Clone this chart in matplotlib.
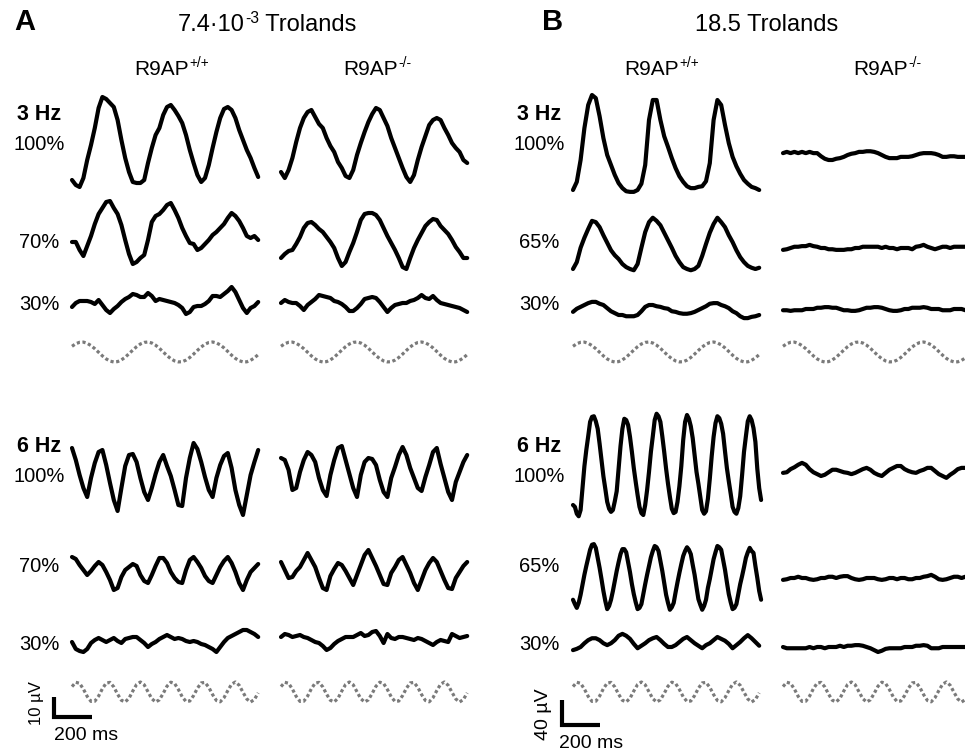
import numpy as np
import matplotlib.pyplot as plt

plt.rcParams['font.family'] = ['Liberation Sans', 'DejaVu Sans']

# ---- traces, uV, read off the figure (1 s sweeps, evenly sampled) ----
# panel A, 7.4e-3 Td
a_wt_3hz_100 = [-20, -22.5, -23.5, -19, -10, -2.5, 6, 16, 21.5, 20.5, 18.5, 16.5, 10, 0, -9, -16, -21,
                -21.5, -21.5, -20, -11.5, -4, 2.5, 6, 12.5, 16.5, 17.5, 15, 12, 8.5, 2.5, -5, -11.5, -17.5,
                -21, -19, -12.5, -4, 4, 11, 15.5, 16.5, 15, 11, 5, 0, -5, -9, -14, -18.5]
a_ko_3hz_100 = [-13.5, -16.5, -12.5, -6.5, 1.5, 8.5, 13.5, 16.5, 17.5, 14, 10.5, 8.5, 3.5, -0.5, -3.5, -8.5,
                -11.5, -15.5, -16.5, -12.5, -5, 1, 6.5, 11.5, 15.5, 18.5, 17.5, 13.5, 9.5, 3.5, -1.5, -6.5,
                -11.5, -16, -18.5, -15, -7.5, -1, 4.5, 10, 12.5, 13.5, 12.5, 8.5, 5, 1, -1.5, -3.5, -7.5, -9]
a_wt_3hz_70 = [-3.5, -3.5, -7.5, -10.5, -5.5, -0.5, 5.5, 10.5, 13.5, 16.5, 17, 13.5, 10.5, 5, -2.5, -9.5, -14.5,
               -13.5, -11.5, -10, -2.5, 6.5, 9.5, 10.5, 12.5, 15, 16, 12.5, 8.5, 3.5, -0.5, -4, -4.5, -7.5,
               -6.5, -4.5, -2.5, 0, 1.5, 3.5, 5.5, 8.5, 11, 9.5, 7, 3.5, -0.5, -1.5, -0.5, -2.5]
a_ko_3hz_70 = [-9, -7, -5.5, -5, -2, 1.5, 6, 8.5, 9, 7.5, 5.5, 4, 1.5, -1, -4, -9, -13, -11, -6, -1.5, 4, 10,
               13, 13.5, 13.5, 12.5, 10, 6, 2, -1.5, -5, -9, -13.5, -14.5, -9, -4, 0, 3.5, 7, 9, 10.5, 10, 7,
               5, 3, 0, -3.5, -6, -9, -9]
a_wt_3hz_30 = [-2, 0, 1, 1, 1, 0.5, -0.5, 1.5, -1, -3.5, -5, -3, -1.5, 0.5, 2, 3, 4.5, 4, 3, 3, 5, 3.5, 1, 2,
               1.5, 1, 0.5, 0, -1, -2.5, -5.5, -4.5, -2, -1.5, -1.5, -0.5, 1, 3.5, 3.5, 3, 4.5, 6, 8, 5.5,
               1.5, -2.5, -5, -2.5, -1.5, 0.5]
a_ko_3hz_30 = [0, 1.5, 0.5, 0, 0, -1.5, -3.5, -1, 0.5, 2, 4, 3.5, 3, 2.5, 1, 0.5, -0.5, -2, -4, -4, -2.5, -0.5,
               2, 2.5, 3, 2.5, 0.5, -2, -4.5, -2.5, -1, -0.5, 0, 0, 1, 1.5, 2.5, 4, 2.5, 2, 3.5, 1.5, 0, -0.5,
               -1, -1.5, -2, -2.5, -3.5, -4.5]
a_wt_6hz_100 = [16, 10, 2.5, -4, -8.5, 1, 8.5, 14, 15, 7.5, -1.5, -10, -15.5, -4, 7, 12.5, 13, 9, 1, -6, -10,
                -4, 3, 9, 12.5, 7, 2, -5, -12.5, -13, 1, 11, 18.5, 15.5, 9, 1.5, -5, -8.5, 1, 7.5, 12, 13.5,
                6, -5, -12.5, -17.5, -7.5, 2.5, 9, 15]
a_ko_6hz_100 = [8.5, 7.5, 2.5, -7.5, -6.5, 1.5, 7.5, 11.5, 10, 6.5, -1.5, -7.5, -10.5, 0, 7.5, 13.5, 14.5, 7.5,
                0.5, -6.5, -11, 0, 6.5, 8.5, 8, 5, -2.5, -8.5, -11, -1.5, 4, 10, 14, 10, 3.5, -1.5, -6.5, -8,
                -1, 5, 11.5, 13.5, 5.5, -1.5, -8.5, -12.5, -3.5, 1.5, 6.5, 10]
a_wt_6hz_70 = [7.5, 6.5, 3.5, 1, -1.5, 0.5, 3, 5, 3.5, 0, -4, -9, -8, -2.5, 1, 2.5, 4, 3, -1.5, -4.5, -5.5,
               -1.5, 3, 7, 7, 4.5, 0, -3, -5, -5.5, 1, 6, 7.5, 5, 2, -2, -4.5, -5.5, -1.5, 2.5, 5.5, 7.5, 4.5,
               0, -5.5, -9, -4, 0, 2, 4]
a_ko_6hz_70 = [5, 1, -3, -2.5, 0.5, 2.5, 6, 9.5, 6, 2.5, -3, -8, -9, -2, 1.5, 4.5, 3.5, 0.5, -3, -6.5, -1.5,
               3.5, 8.5, 11, 7, 3, -1.5, -6, -6.5, -0.5, 2.5, 6, 7.5, 3.5, -0.5, -5.5, -9, -4, 1, 4.5, 7, 5,
               0.5, -4, -8, -8.5, -3, 0, 3, 5]
a_wt_6hz_30 = [-0.5, -4, -5, -5.5, -4, -1, 0.5, 1.5, 0.5, -0.5, 0.5, 1.5, 0, -1, 1, 1.5, 2, 2, 0.5, -1, -3,
               -1.5, -0.5, 1, 2, 3, 2, 1, 1.5, 1, 0, -0.5, 0, -0.5, -1.5, -2, -3, -4, -5.5, -3, -0.5, 1.5,
               2.5, 3.5, 4.5, 5.5, 5.5, 4.5, 3.5, 2]
a_ko_6hz_30 = [0.5, 2, 1.5, 0.5, 1, 1.5, 0.5, 0, -1, -2, -2.5, -4, -6, -5, -3, -1.5, -0.5, 0.5, 0.5, 0.5, 1.5,
               2.5, 1, 1.5, 3, 3.5, 1, -2.5, 2, 0, -0.5, 0.5, 0.5, 0, -0.5, -1, 0, -0.5, -1.5, -2.5, -3.5,
               -2, -1, -1.5, -2, 2, 1, 0, 0.5, 1]

# panel B, 18.5 Td
b_wt_3hz_100 = [-72, -59, -24, 27, 64, 80, 75, 46, 11, -16, -32, -48, -61, -69, -74, -75, -75, -72, -62, -32,
                40, 72, 72, 40, 14, -3, -21, -37, -50, -59, -66, -69, -69, -67, -66, -58, -29, 40, 72, 64,
                32, 3, -19, -34, -46, -56, -62, -67, -69, -72]
b_ko_3hz_100 = [3, 5, 3, 5, 3, 5, 3, 5, 3, 3, -2, -6, -8, -8, -6, -5, -3, 0, 2, 3, 5, 5, 6, 6, 5, 3, 0, -3,
                -5, -5, -5, -3, -3, -3, -2, 0, 2, 3, 3, 3, 2, 0, -3, -3, -2, -2, -3, -3, -3, -3]
b_wt_3hz_65 = [-40, -29, -6, 10, 24, 37, 35, 27, 14, 2, -10, -18, -24, -32, -37, -40, -42, -32, -6, 19, 35,
               42, 37, 30, 18, 6, -6, -19, -29, -37, -40, -42, -40, -35, -19, 0, 18, 32, 42, 35, 27, 14, 3,
               -10, -21, -29, -35, -38, -40, -38]
b_ko_3hz_65 = [-3, -2, 0, 2, 2, 3, 3, 5, 3, 2, 0, 0, -2, -2, -3, -3, -3, -2, -2, 0, 0, 2, 2, 2, 2, 2, 0, 2,
               0, 0, -2, 0, 0, 0, -2, 2, 3, 5, 2, 0, -2, 0, 2, 2, 0, 2, 2, 2, 2, 2]
b_wt_3hz_30 = [-3, 2, 5, 8, 11, 13, 13, 10, 8, 3, -2, -5, -8, -8, -10, -10, -10, -8, -2, 5, 8, 8, 6, 5, 3,
               2, -2, -3, -5, -6, -6, -5, -3, 0, 3, 6, 10, 11, 11, 8, 6, 3, -2, -5, -10, -13, -13, -11, -10,
               -8]
b_ko_3hz_30 = [-2, -2, -3, -2, -2, -2, 0, 0, 0, 2, 2, 3, 3, 2, 2, 0, -2, -2, -3, -3, -2, 0, 2, 2, 3, 3, 2,
               0, -2, -3, -3, -2, 0, 0, 2, 2, 2, 3, 2, 0, 0, 0, -2, -2, -2, 0, 0, 0, -2, -2]
b_wt_6hz_100 = [-64, -67, -78, -82, -72, -37, -2, 24, 46, 69, 77, 78, 70, 58, 34, 8, -18, -38, -59, -70,
                -75, -72, -58, -42, -6, 30, 58, 74, 72, 64, 45, 21, -5, -27, -48, -67, -77, -80, -64, -40,
                -11, 21, 46, 72, 82, 78, 69, 46, 21, -6, -30, -51, -70, -77, -75, -59, -34, -2, 40, 69,
                80, 74, 62, 43, 16, -11, -30, -51, -72, -78, -74, -54, -22, 14, 45, 67, 78, 75, 66, 50,
                22, -5, -26, -46, -67, -75, -78, -69, -50, -16, 21, 46, 70, 78, 72, 59, 37, -6, -37, -56]
b_ko_6hz_100 = [-3, -2, 3, 6, 10, 13, 10, 3, -2, -5, -8, -6, -2, 2, 2, 0, -2, -3, -5, -3, 0, 3, 5, 2, -3, -6,
                -8, -3, 2, 5, 8, 8, 3, 0, -2, -3, 0, 2, 5, 5, 0, -5, -8, -11, -6, -2, 3, 5, 5, 5]
b_wt_6hz_65 = [-38, -45, -51, -43, -30, -14, 2, 16, 29, 42, 50, 51, 45, 29, 13, -5, -24, -40, -53, -48, -38,
               -24, -8, 8, 22, 35, 43, 43, 38, 22, 6, -13, -29, -42, -53, -51, -45, -29, -13, 2, 16, 30, 40,
               48, 46, 40, 24, 8, -11, -30, -43, -54, -50, -43, -26, -10, 5, 19, 32, 40, 46, 42, 35, 18, 2,
               -18, -37, -46, -54, -48, -38, -19, -5, 11, 27, 38, 48, 46, 42, 26, 10, -10, -29, -42, -53,
               -51, -45, -29, -13, 0, 14, 29, 38, 45, 40, 37, 16, -3, -24, -38]
b_ko_6hz_65 = [-3, -2, 0, 0, 2, 0, 0, -2, -3, -2, 0, 0, 2, 2, 0, 2, 3, 3, 0, -2, -3, -2, 0, 0, 0, -2, -3, -2,
               0, 0, -2, 0, 0, -2, -2, 0, 0, 2, 3, 5, 2, -2, -3, -2, 0, 2, 2, 0, 2, 2]
b_wt_6hz_30 = [-13, -11, -8, -2, 3, 6, 6, 3, -2, -5, -2, 3, 10, 13, 10, 5, -3, -10, -6, -2, 3, 6, 8, 3, -3,
               -8, -8, -5, 0, 5, 8, 3, -2, -6, -10, -5, -2, 3, 8, 5, 2, -3, -10, -5, 0, 6, 11, 6, 0, -6]
b_ko_6hz_30 = [0, -2, -2, -2, -2, -2, -2, 0, -2, 0, 0, -2, 0, 0, 0, 2, 0, 2, 2, 3, 3, 2, 0, -2, -5, -8, -6,
               -3, -2, -2, -2, -2, 0, 0, 0, 2, 2, 3, 2, -2, -2, -2, 0, 0, 0, 0, 0, 0, 0, 0]

# stimulus (relative contrast), same sampling as the traces
stim_3hz = [0.57, 0.83, 0.97, 0.99, 0.87, 0.64, 0.33, -0.03, -0.39, -0.69, -0.91, -1.0, -0.96, -0.79, -0.52,
            -0.17, 0.19, 0.53, 0.8, 0.96, 1.0, 0.9, 0.68, 0.37, 0.0, -0.36, -0.67, -0.89, -0.99, -0.97,
            -0.81, -0.55, -0.21, 0.16, 0.5, 0.78, 0.95, 1.0, 0.91, 0.71, 0.41, 0.05, -0.32, -0.64, -0.87,
            -0.99, -0.98, -0.83, -0.59, -0.26]
stim_6hz = [0.54, 0.97, 0.87, 0.29, -0.44, -0.94, -0.92, -0.41, 0.33, 0.89, 0.96, 0.51, -0.22, -0.83, -0.99,
            -0.63, 0.1, 0.75, 1.0, 0.72, 0.02, -0.67, -1.0, -0.78, -0.14, 0.58, 0.98, 0.85, 0.25, -0.48,
            -0.95, -0.9, -0.36, 0.37, 0.91, 0.95, 0.47, -0.26, -0.85, -0.98, -0.57, 0.14, 0.78, 1.0, 0.67,
            -0.03, -0.7, -1.0, -0.75, -0.09]

panel_titles = [('7.4·10', '-3', ' Trolands'), ('18.5 Trolands', '', '')]
genotypes = [('R9AP', '+/+', ''), ('R9AP', '-/-', '')]
freq_labels = ['3 Hz', '6 Hz']
contrast_a = ['100%', '70%', '30%']
contrast_b = ['100%', '65%', '30%']
scale_uv = [10, 40]
scale_ms = 200

# ---- layout (pixels of the 965x752 canvas) ----
fig = plt.figure(figsize=(9.65, 7.52), dpi=100)
ax = fig.add_axes([0, 0, 1, 1])
ax.set_xlim(0, 965)
ax.set_ylim(752, 0)
ax.axis('off')
renderer = fig.canvas.get_renderer()

PX_MS = 0.19
px_uv = {'A': 2.0, 'B': 0.625}
STIM_PX = 10


def trace(vals, x0, y0, k):
    v = np.asarray(vals, float)
    t = np.arange(len(v)) * 1000.0 / len(v)
    ax.plot(x0 + t * PX_MS, y0 - v * k, color='black', lw=3.0,
            solid_joinstyle='round', solid_capstyle='round')


def stim(vals, x0, y0):
    v = np.asarray(vals, float)
    t = np.arange(len(v)) * 1000.0 / len(v)
    ax.plot(x0 + t * PX_MS, y0 - v * STIM_PX, color='#7a7a7a', lw=2.3,
            linestyle=(0, (1, 0.8)))


def sup_text(cx, base_y, parts, fs, sup_rise=8):
    # base text + superscript + tail, centred as one block on cx (base_y = baseline)
    main, sup, tail = parts
    t1 = ax.text(0, base_y, main, fontsize=fs, va='baseline')
    t2 = ax.text(0, base_y - sup_rise, sup, fontsize=fs * 0.66, va='baseline')
    t3 = ax.text(0, base_y, tail, fontsize=fs, va='baseline')
    w = [t.get_window_extent(renderer).width if t.get_text() else 0 for t in (t1, t2, t3)]
    x = cx - sum(w) / 2
    t1.set_x(x)
    t2.set_x(x + w[0] + 0.5)
    t3.set_x(x + w[0] + w[1] + 0.5)


# panel A
xa = (72, 281)
k = px_uv['A']
trace(a_wt_3hz_100, xa[0], 140, k); trace(a_ko_3hz_100, xa[1], 145, k)
trace(a_wt_3hz_70, xa[0], 235, k);  trace(a_ko_3hz_70, xa[1], 240, k)
trace(a_wt_3hz_30, xa[0], 303, k);  trace(a_ko_3hz_30, xa[1], 303, k)
trace(a_wt_6hz_100, xa[0], 480, k); trace(a_ko_6hz_100, xa[1], 475, k)
trace(a_wt_6hz_70, xa[0], 572, k);  trace(a_ko_6hz_70, xa[1], 572, k)
trace(a_wt_6hz_30, xa[0], 641, k);  trace(a_ko_6hz_30, xa[1], 638, k)

# panel B
xb = (573, 783)
k = px_uv['B']
trace(b_wt_3hz_100, xb[0], 145, k); trace(b_ko_3hz_100, xb[1], 155, k)
trace(b_wt_3hz_65, xb[0], 244, k);  trace(b_ko_3hz_65, xb[1], 248, k)
trace(b_wt_3hz_30, xb[0], 310, k);  trace(b_ko_3hz_30, xb[1], 309, k)
trace(b_wt_6hz_100, xb[0], 465, k); trace(b_ko_6hz_100, xb[1], 471, k)
trace(b_wt_6hz_65, xb[0], 576, k);  trace(b_ko_6hz_65, xb[1], 578, k)
trace(b_wt_6hz_30, xb[0], 642, k);  trace(b_ko_6hz_30, xb[1], 647, k)

for x0 in xa + xb:
    stim(stim_3hz, x0, 352)
    stim(stim_6hz, x0, 692)

# headers
ax.text(14, 22, 'A', fontsize=21, fontweight='bold', va='center')
ax.text(542, 22, 'B', fontsize=21, fontweight='bold', va='center')
sup_text(267, 31, panel_titles[0], 17)
sup_text(767, 31, panel_titles[1], 17)
for cx, g in zip((171, 377, 661, 887), genotypes * 2):
    sup_text(cx, 75, g, 15)

# row labels
for cx, pct in ((39, contrast_a), (539, contrast_b)):
    ax.text(cx, 115, freq_labels[0], fontsize=15.5, fontweight='bold', ha='center', va='center')
    ax.text(cx, 145, pct[0], fontsize=14.5, ha='center', va='center')
    ax.text(cx, 242, pct[1], fontsize=14.5, ha='center', va='center')
    ax.text(cx, 304, pct[2], fontsize=14.5, ha='center', va='center')
    ax.text(cx, 447, freq_labels[1], fontsize=15.5, fontweight='bold', ha='center', va='center')
    ax.text(cx, 476, pct[0], fontsize=14.5, ha='center', va='center')
    ax.text(cx, 567, pct[1], fontsize=14.5, ha='center', va='center')
    ax.text(cx, 644, pct[2], fontsize=14.5, ha='center', va='center')

# scale bars
for (sx, sy), uv, k, (lx, ly), fs, (mx, my) in (((54, 717), scale_uv[0], px_uv['A'], (36, 703), 12, (86, 735)),
                                                 ((562, 725), scale_uv[1], px_uv['B'], (543, 714), 14, (591, 744))):
    ax.plot([sx, sx, sx + scale_ms * PX_MS], [sy - uv * k, sy, sy], color='black', lw=3,
            solid_joinstyle='miter', solid_capstyle='butt')
    ax.text(lx, ly, f'{uv} µV', fontsize=fs, rotation=90, ha='center', va='center')
    ax.text(mx, my, f'{scale_ms} ms', fontsize=14, ha='center', va='center')

fig.savefig('out.png', dpi=100)
